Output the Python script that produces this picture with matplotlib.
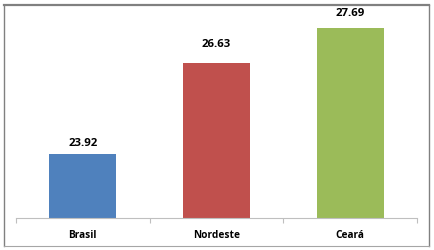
import matplotlib
matplotlib.use('Agg')
import matplotlib.pyplot as plt
from matplotlib.lines import Line2D

# Data
categories = ['Brasil', 'Nordeste', 'Ceará']
values = [23.92, 26.63, 27.69]
colors = ['#4F81BD', '#C0504D', '#9BBB59']

# label gap above each bar (points), as in the original picture
label_pad = [3.4, 9.4, 6.5]

W, H = 434, 250
fig = plt.figure(figsize=(W / 100, H / 100), dpi=100)
ax = fig.add_axes([16 / W, 1 - 218 / H, (417 - 16) / W, (218 - 17.6) / H])

x = range(len(categories))
bars = ax.bar(x, values, width=0.5, color=colors, zorder=2)

for b, v, p in zip(bars, values, label_pad):
    ax.annotate(f'{v:.2f}', (b.get_x() + b.get_width() / 2, v),
                xytext=(0, p), textcoords='offset points', ha='center', va='bottom',
                fontsize=8.2, fontweight='bold', family='Open Sans')

ax.set_xlim(-0.5, 2.5)
ax.set_ylim(22, 28)

ax.set_xticks(list(x))
ax.set_xticklabels(categories, fontsize=7.3, fontweight='bold', family='Open Sans')
ax.tick_params(axis='x', which='major', length=0, pad=9)
ax.set_xticks([-0.5, 0.5, 1.5, 2.5], minor=True)
ax.tick_params(axis='x', which='minor', length=3.6, width=0.8, color='#BFBFBF', direction='out')
ax.set_yticks([])

for s in ['top', 'right', 'left']:
    ax.spines[s].set_visible(False)
ax.spines['bottom'].set_color('#BFBFBF')
ax.spines['bottom'].set_linewidth(0.8)

# outer border
def px(xp, yp):
    return xp / W, 1 - yp / H

gray = '#808080'
x0, y0 = px(3.5, 5)
x1, y1 = px(428.5, 246)
fig.add_artist(Line2D([x0, x1], [y0, y0], color=gray, lw=1.6))
fig.add_artist(Line2D([x0, x0], [y0, y1], color=gray, lw=1.0))
fig.add_artist(Line2D([x1, x1], [y0, y1], color=gray, lw=1.0))
fig.add_artist(Line2D([x0, x1], [y1, y1], color='#A6A6A6', lw=0.8))

fig.savefig('out.png', dpi=100)
